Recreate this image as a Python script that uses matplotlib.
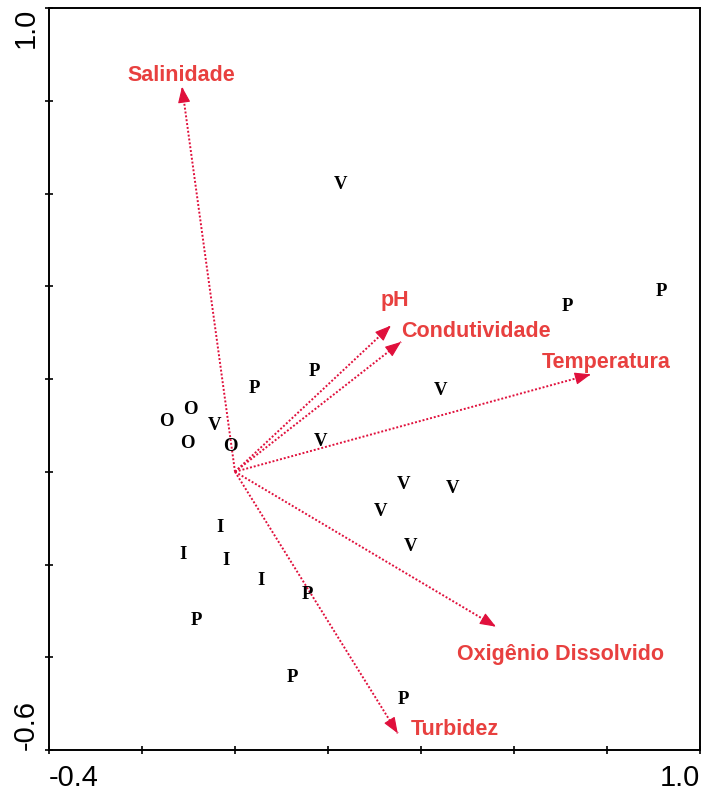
import matplotlib.pyplot as plt
from matplotlib.transforms import offset_copy

# environmental vectors (biplot arrows)
var_names = ["Salinidade", "pH", "Condutividade", "Temperatura",
             "Oxigênio Dissolvido", "Turbidez"]
var_x = [-0.114, 0.335, 0.357, 0.765, 0.561, 0.350]
var_y = [0.830, 0.315, 0.280, 0.210, -0.334, -0.564]
# where each variable name sits
lab_x = [-0.116, 0.344, 0.518, 0.798, 0.699, 0.473]
lab_y = [0.860, 0.375, 0.310, 0.243, -0.387, -0.550]

# sample scores, labelled by season
site_lab = ["V", "P", "P", "P", "P", "V", "O", "O", "V", "O", "O", "V",
            "V", "V", "V", "V", "I", "I", "I", "I", "P", "P", "P", "P"]
site_x = [0.226, 0.714, 0.916, 0.170, 0.041, 0.443, -0.097, -0.148, -0.043,
          -0.103, -0.011, 0.185, 0.363, 0.467, 0.314, 0.378, -0.032, -0.112,
          -0.019, 0.056, 0.155, -0.082, 0.123, 0.363]
site_y = [0.625, 0.364, 0.396, 0.222, 0.187, 0.181, 0.140, 0.114, 0.107,
          0.068, 0.060, 0.071, -0.020, -0.029, -0.080, -0.154, -0.113, -0.171,
          -0.184, -0.227, -0.259, -0.315, -0.436, -0.484]

ARROW = "#E0103C"
TEXT = "#E8403F"

fig = plt.figure(figsize=(7.02, 7.92), dpi=100)
ax = fig.add_axes([49 / 702, 42 / 792, 651 / 702, 742 / 792])
ax.set_xlim(-0.4, 1.0)
ax.set_ylim(-0.6, 1.0)

# nudge text down a little so the glyphs sit centred on their points
txt_tr = offset_copy(ax.transData, fig=fig, x=0, y=-2.2, units="points")

for x, y in zip(var_x, var_y):
    ax.plot([0, x], [0, y], color=ARROW, lw=1.4, linestyle=(0, (1, 1)))
    # short solid stub just to carry the arrowhead
    ax.annotate("", xy=(x, y), xytext=(x * 0.97, y * 0.97),
                arrowprops=dict(arrowstyle="-|>,head_length=0.9,head_width=0.35",
                                color=ARROW, lw=0.8, shrinkA=0, shrinkB=0,
                                mutation_scale=11))

for name, x, y in zip(var_names, lab_x, lab_y):
    ax.text(x, y, name, color=TEXT, fontsize=15.5, fontweight="bold",
            family="Liberation Sans", ha="center", va="center",
            transform=txt_tr)

for s, x, y in zip(site_lab, site_x, site_y):
    ax.text(x, y, s, fontsize=13.5, fontweight="bold", family="Liberation Serif",
            ha="center", va="center", color="black", transform=txt_tr)

xt = [-0.4, -0.2, 0.0, 0.2, 0.4, 0.6, 0.8, 1.0]
yt = [-0.6, -0.4, -0.2, 0.0, 0.2, 0.4, 0.6, 0.8, 1.0]
ax.set_xticks(xt)
ax.set_xticklabels(["-0.4"] + [""] * 6 + ["1.0"])
ax.set_yticks(yt)
ax.set_yticklabels(["-0.6"] + [""] * 7 + ["1.0"], rotation=90, va="center")
ax.tick_params(direction="inout", length=6, width=1.2, labelsize=21,
               color="black")
ax.tick_params(axis="x", pad=7)
ax.tick_params(axis="y", pad=4)
for lbl in ax.get_xticklabels() + ax.get_yticklabels():
    lbl.set_family("Liberation Sans")
xl = ax.get_xticklabels()
xl[0].set_ha("left")
xl[-1].set_ha("right")
yl = ax.get_yticklabels()
yl[0].set_va("bottom")
yl[-1].set_va("top")

for sp in ax.spines.values():
    sp.set_linewidth(1.4)

fig.savefig("out.png", dpi=100)
